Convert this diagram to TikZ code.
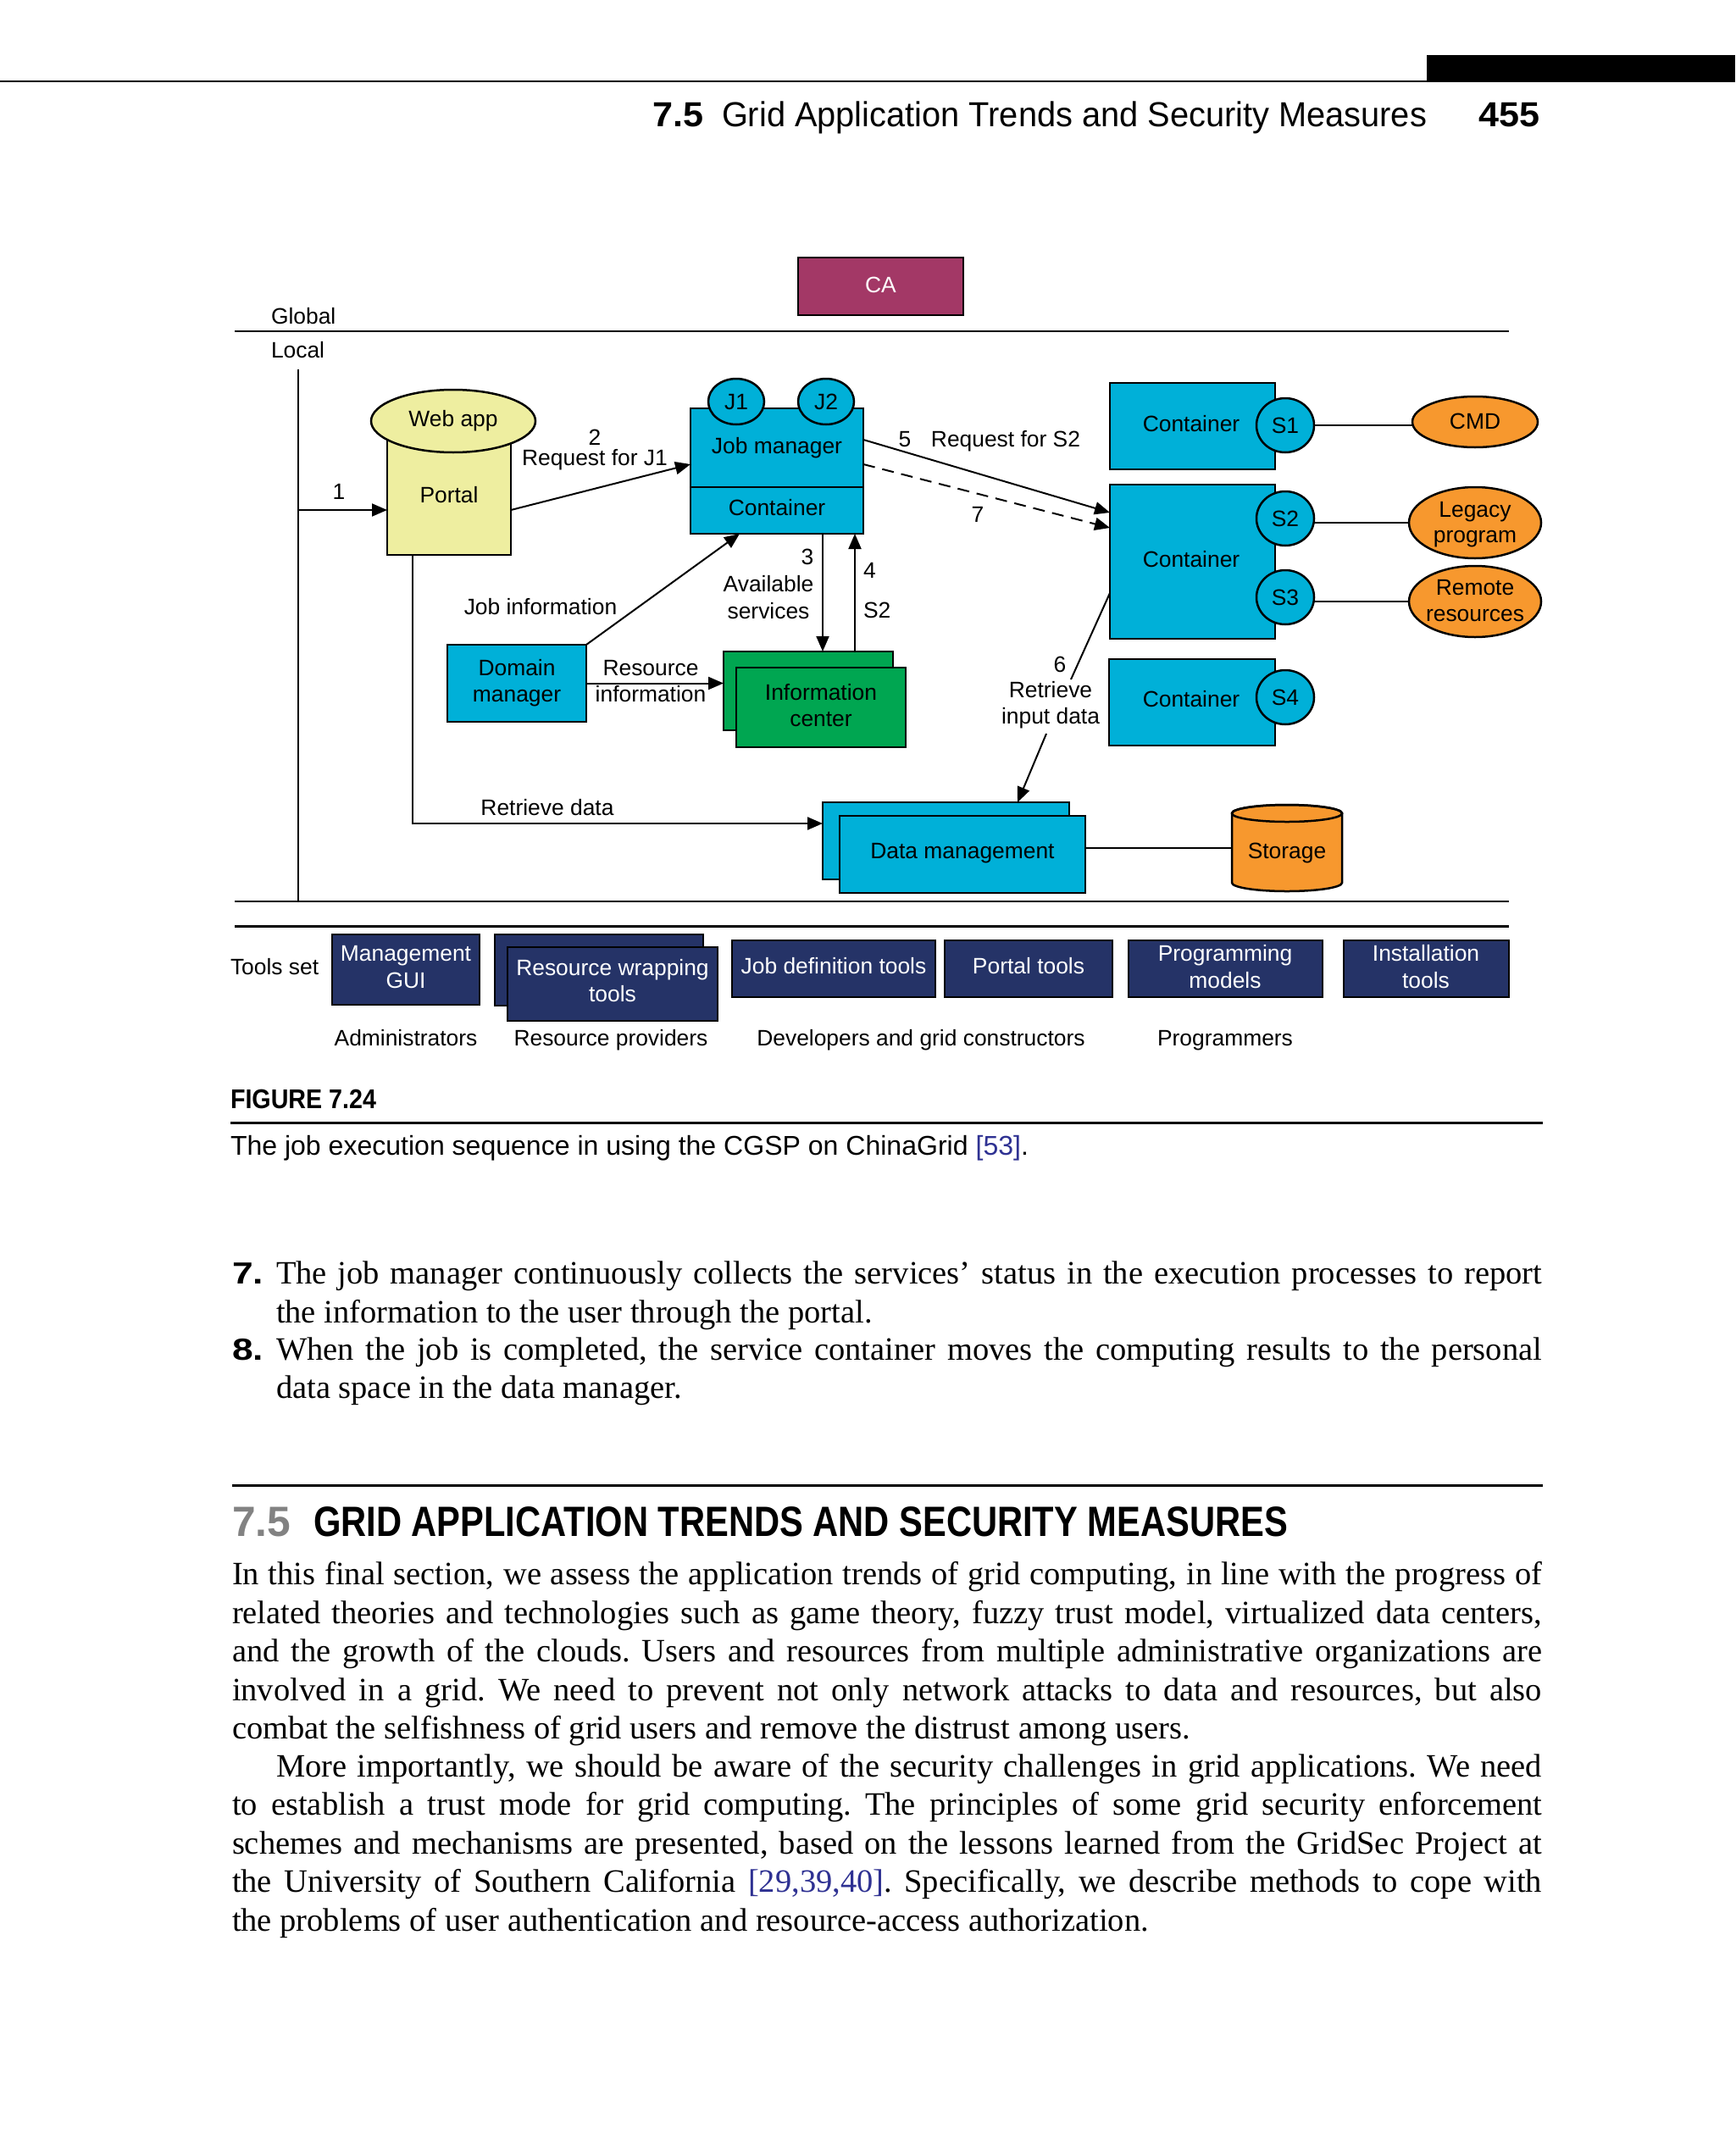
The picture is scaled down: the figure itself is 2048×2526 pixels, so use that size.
\documentclass[tikz,border=0pt]{standalone}
\usepackage{fontspec}
\usepackage{graphicx}
\setmainfont{Liberation Sans}
\newfontfamily\serifbody{Liberation Serif}
\usetikzlibrary{arrows.meta,shapes.geometric}
\definecolor{caC}{RGB}{163,56,102}
\definecolor{cyanC}{RGB}{0,176,216}
\definecolor{yelC}{RGB}{238,238,160}
\definecolor{grnC}{RGB}{0,166,81}
\definecolor{oraC}{RGB}{247,152,46}
\definecolor{navC}{RGB}{37,51,103}
\definecolor{citeC}{RGB}{46,49,146}
\definecolor{grayH}{RGB}{130,130,130}
\frenchspacing
\newcommand{\fitto}[2]{\resizebox{#1}{\height}{#2}}
\newcommand{\figfont}{\fontsize{26.4}{32}\selectfont}
\newcommand{\hdfont}{\fontsize{41}{48}\selectfont}
\newcommand{\hdbold}{\fontsize{41}{48}\selectfont\bfseries}
\newcommand{\headfont}{\fontsize{50}{60}\selectfont\bfseries}
\newcommand{\figlabfont}{\fontsize{32}{38}\selectfont\bfseries}
\newcommand{\capfont}{\fontsize{32}{38}\selectfont}
\newcommand{\lstnum}{\fontsize{36}{44}\selectfont\bfseries}
\newcommand{\bodyfont}{\serifbody\fontsize{38.5}{45.5}\selectfont}
\begin{document}
\begin{tikzpicture}[x=1pt,y=-1pt,
  every node/.style={inner sep=0pt,outer sep=0pt,font=\figfont},
  bx/.style={draw=black,line width=2.5pt,rectangle},
  el/.style={draw=black,line width=2.5pt,ellipse},
  con/.style={line width=2pt},
  arr/.style={line width=2pt,-{Triangle[length=18pt,width=15pt]}},
  tx/.style={anchor=base},
  txw/.style={anchor=base west},
  wt/.style={anchor=base,text=white},
  bt/.style={anchor=base west,font=\bodyfont},
  rulel/.style={line width=2.5pt}
  ]
\fill[white] (0,0) rectangle (2048,2526);
\useasboundingbox (0,0) rectangle (2048,2526);

% ---------- running header ----------
\fill[black] (1684,65) rectangle (2048,97);
\draw[rulel] (0,96) -- (1684,96);
\node[txw,font=\hdbold] (h75) at (770,150) {\fitto{60pt}{7.5}};
\node[txw,font=\hdfont] (htitle) at (852,150) {\fitto{832pt}{Grid Application Trends and Security Measures}};
\node[txw,font=\hdbold] (hpage) at (1745,150) {\fitto{72pt}{455}};

% ---------- figure ----------
\node[bx,fill=caC,minimum width=195pt,minimum height=68pt] (ca) at (1039.5,338) {};
\node[wt] (tca) at (1039.5,345) {CA};

\draw[rulel] (277,391) -- (1781,391);
\node[txw] (glob) at (320,382) {Global};
\node[txw] (loc) at (320,422) {Local};

\coordinate (lvtop) at (352,436);
\coordinate (lvbot) at (352,1064);
\coordinate (lv1) at (352,602);
\draw[con] (lvtop) -- (lvbot);

% portal
\node[bx,fill=yelC,minimum width=146pt,minimum height=158pt] (portal) at (530,576) {};
\node[el,fill=yelC,minimum width=194pt,minimum height=74pt] (webapp) at (535,497) {};
\node[tx] (twa) at (535,503) {Web app};
\node[tx] (tport) at (530,593) {Portal};

% job manager
\node[bx,fill=cyanC,minimum width=204pt,minimum height=93pt] (jmtop) at (917,528.5) {};
\node[bx,fill=cyanC,minimum width=204pt,minimum height=55pt] (jmbot) at (917,602.5) {};
\node[el,fill=cyanC,minimum width=66pt,minimum height=54pt] (j1) at (869,474) {};
\node[el,fill=cyanC,minimum width=66pt,minimum height=54pt] (j2) at (975,474) {};
\node[tx] (tj1) at (869,483) {J1};
\node[tx] (tj2) at (975,483) {J2};
\node[tx] (tjm) at (917,535) {Job manager};
\node[tx] (tjc) at (917,608) {Container};

% containers
\node[bx,fill=cyanC,minimum width=195pt,minimum height=102pt] (c1) at (1407.5,503) {};
\node[bx,fill=cyanC,minimum width=195pt,minimum height=182pt] (c2) at (1407.5,663) {};
\node[bx,fill=cyanC,minimum width=196pt,minimum height=102pt] (c4) at (1407,829) {};
\node[el,fill=cyanC,minimum width=68pt,minimum height=64pt] (s1) at (1517,502) {};
\node[el,fill=cyanC,minimum width=68pt,minimum height=64pt] (s2) at (1517,612) {};
\node[el,fill=cyanC,minimum width=68pt,minimum height=64pt] (s3) at (1517,705) {};
\node[el,fill=cyanC,minimum width=68pt,minimum height=64pt] (s4) at (1517,823) {};
\node[tx] (tc1) at (1406,509) {Container};
\node[tx] (tc2) at (1406,669) {Container};
\node[tx] (tc4) at (1406,834) {Container};
\node[tx] (ts1) at (1517,511) {S1};
\node[tx] (ts2) at (1517,621) {S2};
\node[tx] (ts3) at (1517,714) {S3};
\node[tx] (ts4) at (1517,832) {S4};

% resources
\node[el,fill=oraC,minimum width=148pt,minimum height=60pt] (cmd) at (1741,498) {};
\node[el,fill=oraC,minimum width=156pt,minimum height=84pt] (leg) at (1741,617) {};
\node[el,fill=oraC,minimum width=156pt,minimum height=84pt] (rem) at (1741,710) {};
\node[tx] (tcmd) at (1741,506) {CMD};
\node[tx] (tleg1) at (1741,610) {Legacy};
\node[tx] (tleg2) at (1741,640) {program};
\node[tx] (trem1) at (1741,702) {Remote};
\node[tx] (trem2) at (1741,733) {resources};
\draw[con] (s1.east) -- (s1.east -| cmd.west);
\draw[con] (leg.west -| s2.east) -- (leg.west);
\draw[con] (rem.west -| s3.east) -- (rem.west);

% domain manager, information center
\node[bx,fill=cyanC,minimum width=164pt,minimum height=91pt] (dom) at (610,806.5) {};
\node[tx] (tdm1) at (610,797) {Domain};
\node[tx] (tdm2) at (610,828) {manager};
\node[bx,fill=grnC,minimum width=200pt,minimum height=93pt] (infob) at (954,815.5) {};
\node[bx,fill=grnC,minimum width=200pt,minimum height=94pt] (infof) at (969,835) {};
\node[tx] (tic1) at (969,826) {Information};
\node[tx] (tic2) at (969,857) {center};

% data management, storage
\node[bx,fill=cyanC,minimum width=291pt,minimum height=91pt] (dmb) at (1116.5,992.5) {};
\node[bx,fill=cyanC,minimum width=290pt,minimum height=91pt] (dmf) at (1136,1008.5) {};
\node[tx] (tdmg) at (1136,1013) {Data management};
\node[minimum width=130pt,minimum height=102pt] (stor) at (1519,1001) {};
\path[fill=oraC,draw=black,line width=2.5pt] (1454,960) -- (1454,1042)
  arc[start angle=180,end angle=0,x radius=65,y radius=10] -- (1584,960)
  arc[start angle=0,end angle=-180,x radius=65,y radius=10] -- cycle;
\draw[line width=2.5pt] (1519,960) ellipse [x radius=65,y radius=10];
\node[tx] (tsto) at (1519,1013) {Storage};
\draw[con] ([yshift=7.5pt]dmf.east) -- ([yshift=7.5pt]dmf.east -| stor.west);

% connectors
\draw[arr] (lv1) -- (lv1 -| portal.west);
\node[tx] (t1) at (400,589) {1};
\draw[arr] (lv1 -| portal.east) -- ([yshift=-19.5pt]jmtop.west);
\node[tx] (t2) at (702,525) {2};
\node[tx] (treq1) at (702,549) {Request for J1};
\draw[arr] ([yshift=9.5pt]jmtop.east) -- ([yshift=58pt]c2.west);
\node[tx] (t5) at (1068,527) {5};
\node[tx] (treq2) at (1187,527) {Request for S2};
\draw[arr,dash pattern=on 14pt off 9pt] ([yshift=-19.5pt]jmtop.east) -- ([yshift=40pt]c2.west);
\node[tx] (t7) at (1154,616) {7};
\draw[arr] ([xshift=54pt]jmbot.south) -- ([xshift=54pt]jmbot.south |- infob.north);
\draw[arr] ([xshift=92pt]jmbot.south |- infob.north) -- ([xshift=92pt]jmbot.south);
\node[tx] (t3) at (953,666) {3};
\node[tx] (tav) at (907,698) {Available};
\node[tx] (tsv) at (907,730) {services};
\node[txw] (t4) at (1019,682) {4};
\node[txw] (ts2b) at (1019,729) {S2};
\draw[arr] (dom.north east) -- ([xshift=-44pt]jmbot.south);
\node[tx] (tji) at (638,725) {Job information};
\draw[arr] (dom.east) -- (dom.east -| infob.west);
\node[tx] (tri1) at (768,797) {Resource};
\node[tx] (tri2) at (768,828) {information};
\draw[arr] ([xshift=-43pt]portal.south) |- ([yshift=20.5pt]dmb.west);
\node[tx] (trd) at (646,962) {Retrieve data};
\coordinate (c6a) at (1264,802);
\coordinate (c6b) at (1235,866);
\draw[con] ([yshift=-37pt]c2.west) -- (c6a);
\draw[arr] (c6b) -- ([xshift=84.5pt]dmb.north);
\node[tx] (t6) at (1251,793) {6};
\node[tx] (tret) at (1240,823) {Retrieve};
\node[tx] (tinp) at (1240,854) {input data};

% bottom rules
\draw[rulel] (277,1064) -- (1781,1064);
\draw[line width=3pt] (277,1093) -- (1781,1093);

% tools set
\node[txw] (ttools) at (272,1150) {Tools set};
\node[bx,fill=navC,minimum width=174pt,minimum height=83pt] (mgui) at (479,1144.5) {};
\node[wt] (tmg1) at (479,1134) {Management};
\node[wt] (tmg2) at (479,1166) {GUI};
\node[bx,fill=navC,minimum width=246pt,minimum height=84pt] (rwb) at (707,1145) {};
\node[bx,fill=navC,minimum width=248pt,minimum height=87pt] (rwf) at (723,1161.5) {};
\node[wt] (trw1) at (723,1151) {Resource wrapping};
\node[wt] (trw2) at (723,1182) {tools};
\node[bx,fill=navC,minimum width=240pt,minimum height=67pt] (jdt) at (984,1143.5) {};
\node[wt] (tjd) at (984,1149) {Job definition tools};
\node[bx,fill=navC,minimum width=198pt,minimum height=67pt] (ptt) at (1214,1143.5) {};
\node[wt] (tpt) at (1214,1149) {Portal tools};
\node[bx,fill=navC,minimum width=229pt,minimum height=67pt] (pgm) at (1446.5,1143.5) {};
\node[wt] (tpm1) at (1446,1134) {Programming};
\node[wt] (tpm2) at (1446,1166) {models};
\node[bx,fill=navC,minimum width=195pt,minimum height=67pt] (inst) at (1683.5,1143.5) {};
\node[wt] (tin1) at (1683,1134) {Installation};
\node[wt] (tin2) at (1683,1166) {tools};
\node[tx] (tadm) at (479,1234) {Administrators};
\node[tx] (trp) at (721,1234) {Resource providers};
\node[tx] (tdev) at (1087,1234) {Developers and grid constructors};
\node[tx] (tprg) at (1446,1234) {Programmers};

% ---------- caption ----------
\node[txw,font=\figlabfont] (figlab) at (272,1308) {\fitto{172pt}{FIGURE 7.24}};
\draw[line width=3pt] (272,1325) -- (1821,1325);
\node[txw,font=\capfont] (cap) at (272,1363) {\fitto{942pt}{The job execution sequence in using the CGSP on ChinaGrid \textcolor{citeC}{[53]}.}};

% ---------- body text ----------
\node[txw,font=\lstnum] (n7) at (274,1515) {\fitto{37pt}{7.}};
\node[bt] (l7a) at (326,1515) {\makebox[1494pt][s]{The job manager continuously collects the services’ status in the execution processes to report}};
\node[bt] (l7b) at (326,1561) {the information to the user through the portal.};
\node[txw,font=\lstnum] (n8) at (274,1605) {\fitto{37pt}{8.}};
\node[bt] (l8a) at (326,1605) {\makebox[1494pt][s]{When the job is completed, the service container moves the computing results to the personal}};
\node[bt] (l8b) at (326,1650) {data space in the data manager.};

\draw[line width=3pt] (274,1753) -- (1821,1753);
\node[txw,font=\headfont,text=grayH] (s75) at (274,1813) {\fitto{69pt}{7.5}};
\node[txw,font=\headfont] (stitle) at (370,1813) {\fitto{1150pt}{GRID APPLICATION TRENDS AND SECURITY MEASURES}};

\node[bt] (p1a) at (274,1870) {\makebox[1546pt][s]{In this final section, we assess the application trends of grid computing, in line with the progress of}};
\node[bt] (p1b) at (274,1916) {\makebox[1546pt][s]{related theories and technologies such as game theory, fuzzy trust model, virtualized data centers,}};
\node[bt] (p1c) at (274,1961) {\makebox[1546pt][s]{and the growth of the clouds. Users and resources from multiple administrative organizations are}};
\node[bt] (p1d) at (274,2007) {\makebox[1546pt][s]{involved in a grid. We need to prevent not only network attacks to data and resources, but also}};
\node[bt] (p1e) at (274,2052) {combat the selfishness of grid users and remove the distrust among users.};
\node[bt] (p2a) at (326,2097) {\makebox[1494pt][s]{More importantly, we should be aware of the security challenges in grid applications. We need}};
\node[bt] (p2b) at (274,2142) {\makebox[1546pt][s]{to establish a trust mode for grid computing. The principles of some grid security enforcement}};
\node[bt] (p2c) at (274,2188) {\makebox[1546pt][s]{schemes and mechanisms are presented, based on the lessons learned from the GridSec Project at}};
\node[bt] (p2d) at (274,2233) {\makebox[1546pt][s]{the University of Southern California \textcolor{citeC}{[29,39,40]}. Specifically, we describe methods to cope with}};
\node[bt] (p2e) at (274,2279) {the problems of user authentication and resource-access authorization.};
\end{tikzpicture}
\end{document}
